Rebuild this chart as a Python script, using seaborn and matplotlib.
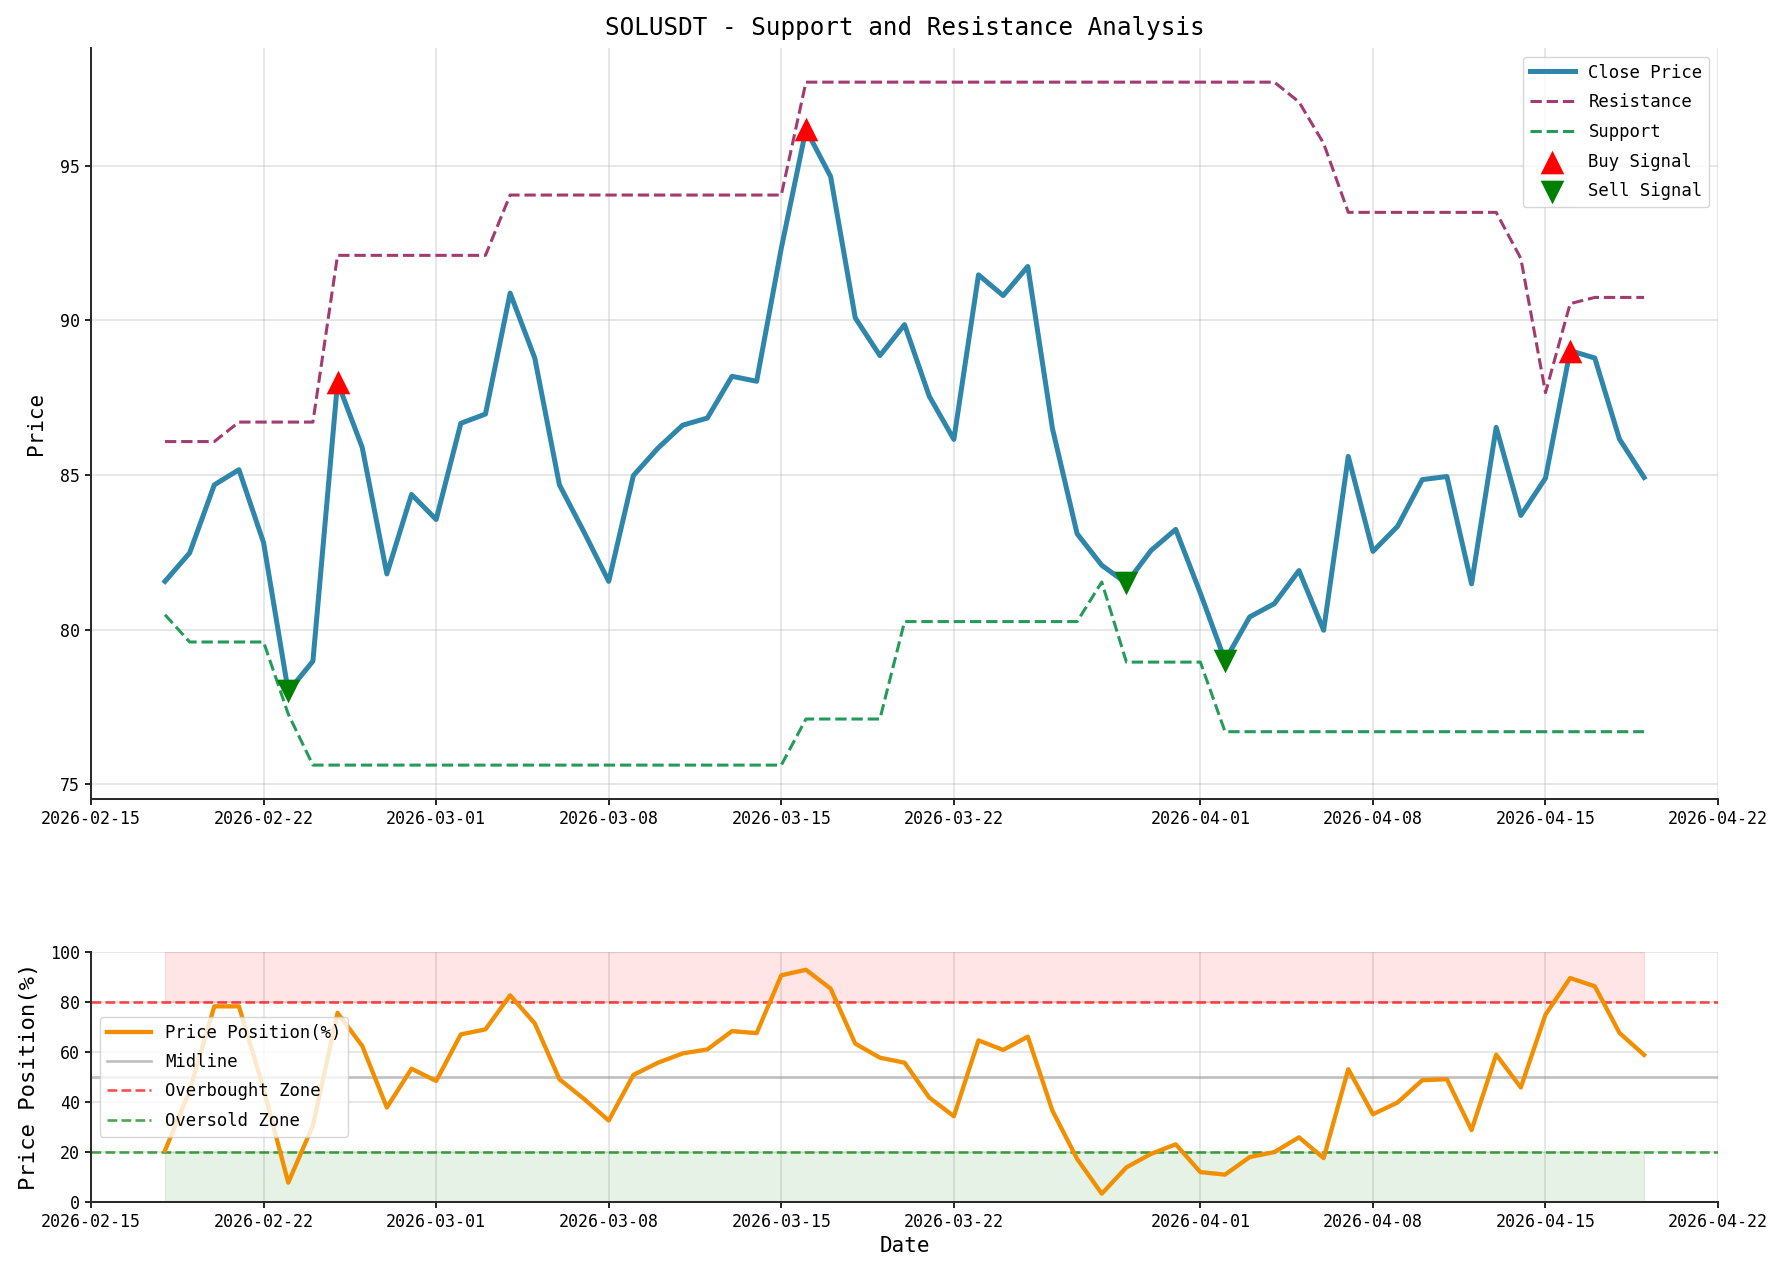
import matplotlib
matplotlib.use("Agg")
import matplotlib.pyplot as plt
import matplotlib.dates as mdates
import seaborn as sns
import pandas as pd

# ---------------- data ----------------
start_date = "2026-02-18"
n_days = 61

close = [81.56, 82.48, 84.68, 85.17, 82.81, 78.00, 78.98, 88.00, 85.89, 81.80,
         84.37, 83.56, 86.67, 86.97, 90.88, 88.78, 84.68, 83.15, 81.56, 84.98,
         85.87, 86.61, 86.84, 88.19, 88.03, 92.33, 96.17, 94.65, 90.08, 88.86,
         89.86, 87.55, 86.15, 91.47, 90.80, 91.74, 86.50, 83.10, 82.08, 81.50,
         82.56, 83.24, 81.18, 79.00, 80.41, 80.84, 81.91, 79.98, 85.60, 82.53,
         83.34, 84.85, 84.95, 81.48, 86.54, 83.69, 84.90, 89.02, 88.78, 86.16,
         84.92]

resistance = [86.08, 86.08, 86.08, 86.71, 86.71, 86.71, 86.71, 92.10, 92.10, 92.10,
              92.10, 92.10, 92.10, 92.10, 94.05, 94.05, 94.05, 94.05, 94.05, 94.05,
              94.05, 94.05, 94.05, 94.05, 94.05, 94.05, 97.70, 97.70, 97.70, 97.70,
              97.70, 97.70, 97.70, 97.70, 97.70, 97.70, 97.70, 97.70, 97.70, 97.70,
              97.70, 97.70, 97.70, 97.70, 97.70, 97.70, 97.06, 95.72, 93.49, 93.49,
              93.49, 93.49, 93.49, 93.49, 93.49, 92.00, 87.66, 90.54, 90.74, 90.74,
              90.74]

support = [80.48, 79.60, 79.60, 79.60, 79.60, 77.27, 75.62, 75.62, 75.62, 75.62,
           75.62, 75.62, 75.62, 75.62, 75.62, 75.62, 75.62, 75.62, 75.62, 75.62,
           75.62, 75.62, 75.62, 75.62, 75.62, 75.62, 77.11, 77.11, 77.11, 77.11,
           80.26, 80.26, 80.26, 80.26, 80.26, 80.26, 80.26, 80.26, 81.54, 78.95,
           78.95, 78.95, 78.95, 76.70, 76.70, 76.70, 76.70, 76.70, 76.70, 76.70,
           76.70, 76.70, 76.70, 76.70, 76.70, 76.70, 76.70, 76.70, 76.70, 76.70,
           76.70]

position = [20.5, 44.4, 78.1, 78.1, 45.1, 7.7, 30.5, 75.5, 62.3, 37.7,
            53.2, 48.3, 66.9, 68.9, 82.5, 71.3, 49.0, 41.1, 32.5, 50.7,
            55.6, 59.3, 60.9, 68.2, 67.4, 90.5, 92.7, 85.2, 63.2, 57.6,
            55.6, 41.7, 34.2, 64.5, 60.7, 66.0, 36.4, 17.2, 3.3, 13.8,
            19.2, 23.0, 11.9, 10.9, 17.9, 19.9, 25.8, 17.5, 53.0, 35.0,
            39.7, 48.6, 49.0, 28.7, 58.8, 45.7, 74.8, 89.4, 86.1, 67.5,
            58.7]

buy_dates = ["2026-02-25", "2026-03-16", "2026-04-16"]
sell_dates = ["2026-02-23", "2026-03-29", "2026-04-02"]

overbought_level = 80
oversold_level = 20
mid_level = 50

# ---------------- frame ----------------
dates = pd.date_range(start_date, periods=n_days, freq="D")
df = pd.DataFrame({"date": dates, "close": close, "resistance": resistance,
                   "support": support, "position": position})
buy_df = df[df["date"].isin(pd.to_datetime(buy_dates))]
sell_df = df[df["date"].isin(pd.to_datetime(sell_dates))]

# ---------------- style ----------------
plt.rcParams["font.family"] = ["DejaVu Sans Mono", "DejaVu Sans"]
plt.rcParams["axes.linewidth"] = 1.45
plt.rcParams["axes.edgecolor"] = "#2b2b2b"
plt.rcParams["xtick.major.size"] = 4.3
plt.rcParams["ytick.major.size"] = 4.3
plt.rcParams["xtick.major.width"] = 1.2
plt.rcParams["ytick.major.width"] = 1.2
plt.rcParams["xtick.labelsize"] = 12
plt.rcParams["ytick.labelsize"] = 12

fig = plt.figure(figsize=(17.85, 12.8), dpi=100)
gs = fig.add_gridspec(2, 1, height_ratios=[3, 1], left=0.051, right=0.9625,
                      top=0.9625, bottom=0.061, hspace=0.304)
ax1 = fig.add_subplot(gs[0])
ax2 = fig.add_subplot(gs[1])

# ---------------- top panel ----------------
sns.lineplot(data=df, x="date", y="close", ax=ax1, color="#2E86AB",
             linewidth=3.6, label="Close Price")
sns.lineplot(data=df, x="date", y="resistance", ax=ax1, color="#A23B72",
             linewidth=2.2, linestyle="--", label="Resistance")
sns.lineplot(data=df, x="date", y="support", ax=ax1, color="#259B5A",
             linewidth=2.2, linestyle="--", label="Support")
sns.scatterplot(data=buy_df, x="date", y="close", ax=ax1, marker="^", s=290,
                color="red", linewidth=0, label="Buy Signal", zorder=5)
sns.scatterplot(data=sell_df, x="date", y="close", ax=ax1, marker="v", s=290,
                color="green", linewidth=0, label="Sell Signal", zorder=5)

ax1.set_title("SOLUSDT - Support and Resistance Analysis", fontsize=17.5, pad=9)
ax1.set_ylabel("Price", fontsize=15, labelpad=10)
ax1.set_xlabel("")
ax1.grid(True, alpha=0.3, linewidth=1.4)
ax1.legend(loc="upper right", fontsize=12.4, handlelength=2.6, framealpha=0.8,
           labelspacing=0.68)

# ---------------- bottom panel ----------------
sns.lineplot(data=df, x="date", y="position", ax=ax2, color="#F18F01",
             linewidth=3.1, label="Price Position(%)", zorder=3)
ax2.axhline(mid_level, color="gray", alpha=0.5, linewidth=1.9, label="Midline")
ax2.axhline(overbought_level, color="red", linestyle="--", alpha=0.7,
            linewidth=1.9, label="Overbought Zone")
ax2.axhline(oversold_level, color="green", linestyle="--", alpha=0.7,
            linewidth=1.9, label="Oversold Zone")
ax2.fill_between(df["date"], overbought_level, 100, color="red", alpha=0.1)
ax2.fill_between(df["date"], 0, oversold_level, color="green", alpha=0.1)
ax2.set_ylim(0, 100)
ax2.set_ylabel("Price Position(%)", fontsize=16, labelpad=8)
ax2.set_xlabel("Date", fontsize=15)
ax2.grid(True, alpha=0.3, linewidth=1.4)
ax2.legend(loc="center left", fontsize=12.4, handlelength=2.6, framealpha=0.8,
           labelspacing=0.66)

for ax in (ax1, ax2):
    ax.xaxis.set_major_locator(mdates.DayLocator(bymonthday=[1, 8, 15, 22]))
    ax.xaxis.set_major_formatter(mdates.DateFormatter("%Y-%m-%d"))
    ax.set_axisbelow(True)

sns.despine(fig=fig)

fig.savefig("out.png", dpi=100)
